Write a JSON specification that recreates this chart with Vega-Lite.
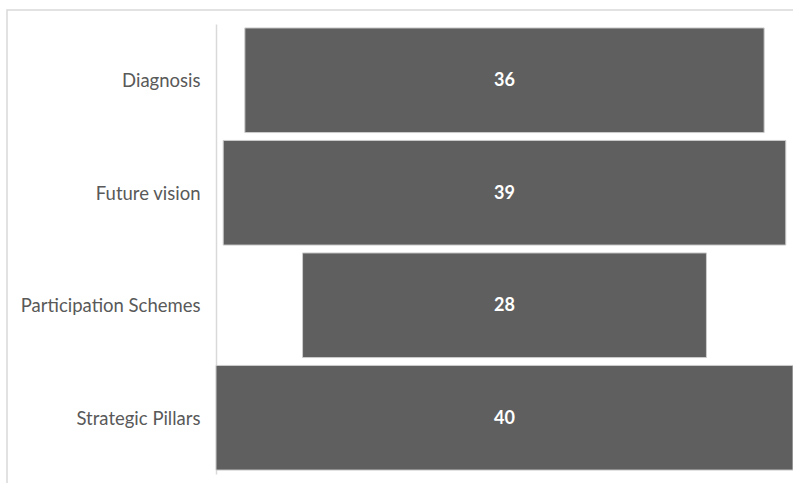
{
  "$schema": "https://vega.github.io/schema/vega-lite/v6.json",
  "width": 800,
  "height": 480,
  "autosize": "none",
  "padding": {"left": 7, "top": 10, "right": 0, "bottom": 0},
  "background": "white",
  "config": {"view": {"stroke": "#d9d9d9", "strokeWidth": 1.5}},
  "data": {"values": [
    {"stage": "Diagnosis", "count": 36},
    {"stage": "Future vision", "count": 39},
    {"stage": "Participation Schemes", "count": 28},
    {"stage": "Strategic Pillars", "count": 40}
  ]},
  "encoding": {
    "y": {"field": "stage", "type": "nominal", "sort": null,
      "scale": {"range": [14, 464], "paddingInner": 0.07, "paddingOuter": 0.035},
      "axis": {"title": null, "offset": -209, "ticks": false, "domainColor": "#d9d9d9", "domainWidth": 1.5,
        "labelFont": "Lato", "labelFontSize": 18.5, "labelColor": "#595959", "labelPadding": 16, "labelOffset": 1}}
  },
  "layer": [
    {
      "mark": {"type": "bar", "color": "#5f5f5f", "stroke": "#cccccc", "strokeWidth": 1},
      "encoding": {
        "x": {"field": "count", "type": "quantitative", "stack": "center",
          "scale": {"domain": [0, 40], "range": [209, 786], "nice": false, "zero": false}, "axis": null}
      }
    },
    {
      "mark": {"type": "text", "color": "white", "fontWeight": "bold", "font": "Lato", "fontSize": 18, "dy": 1},
      "encoding": {
        "x": {"datum": 20, "type": "quantitative"},
        "text": {"field": "count", "type": "quantitative"}
      }
    }
  ]
}
